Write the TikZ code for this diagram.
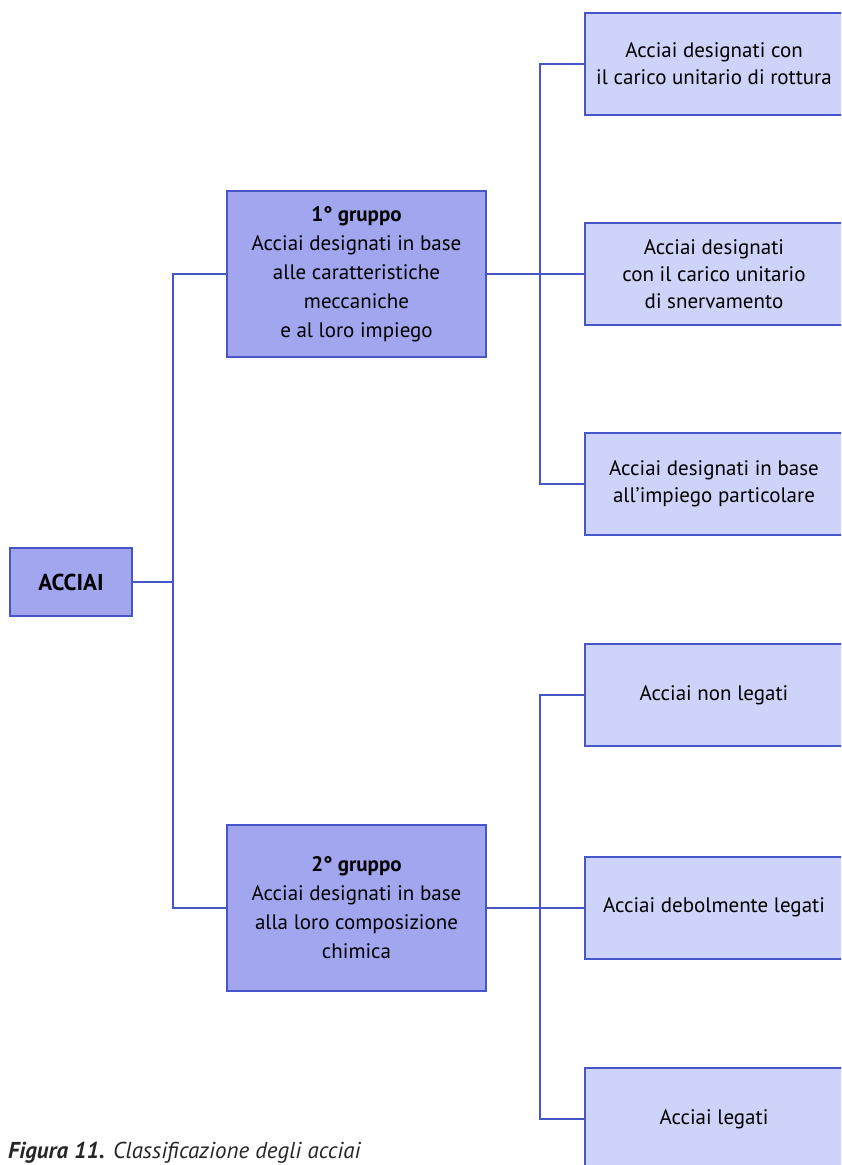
\documentclass[tikz,border=0pt]{standalone}
\usepackage{fontspec}
\setsansfont{PT Sans}
\usetikzlibrary{positioning}
\definecolor{edgeblue}{RGB}{70,86,200}
\definecolor{groupfill}{RGB}{161,166,239}
\definecolor{leaffill}{RGB}{206,212,249}
\begin{document}
\begin{tikzpicture}[x=1pt, y=-1pt,
    every node/.style={font=\sffamily\fontsize{21}{27}\selectfont},
    box/.style={draw=edgeblue, line width=2pt, align=center, inner sep=0pt},
    main/.style={box, fill=groupfill, minimum width=122pt, minimum height=68pt, font=\sffamily\bfseries\fontsize{23}{27}\selectfont},
    group/.style={box, fill=groupfill, minimum width=259pt, minimum height=166pt, font=\sffamily\fontsize{21}{29}\selectfont},
    leaf/.style={box, fill=leaffill, minimum width=258pt, minimum height=102pt},
    caption/.style={font=\sffamily\itshape\fontsize{23}{25}\selectfont, text=black!85, anchor=base west, inner sep=0pt},
    link/.style={draw=edgeblue, line width=2pt}
  ]
    \clip (0,0) rectangle (841,1165);

    \node[main] (acciai) at (71,582) {ACCIAI};
    \node[group] (g1) at (356.5,274) {\textbf{1° gruppo}\\Acciai designati in base\\alle caratteristiche\\meccaniche\\e al loro impiego};
    \node[group] (g2) at (356.5,907.5) {\textbf{2° gruppo}\\Acciai designati in base\\alla loro composizione\\chimica};

    \node[leaf] (g1a) at (714,64) {Acciai designati con\\il carico unitario di rottura};
    \node[leaf] (g1b) at (714,274) {Acciai designati\\con il carico unitario\\di snervamento};
    \node[leaf] (g1c) at (714,484) {Acciai designati in base\\all’impiego particolare};
    \node[leaf] (g2a) at (714,695) {Acciai non legati};
    \node[leaf] (g2b) at (714,907.5) {Acciai debolmente legati};
    \node[leaf] (g2c) at (714,1119) {Acciai legati};

    \node[caption] (cap) at (8,1158) {\textbf{Figura 11.} Classificazione degli acciai};

    \coordinate (trunk) at (173,582);
    \coordinate (b1) at (540,274);
    \coordinate (b2) at (540,907.5);

    \draw[link] (acciai.east) -- (trunk);
    \draw[link] (g1.west) -| (trunk) |- (g2.west);
    \draw[link] (g1.east) -- (b1);
    \draw[link] (g1a.west) -| (b1) |- (g1c.west);
    \draw[link] (b1) -- (g1b.west);
    \draw[link] (g2.east) -- (b2);
    \draw[link] (g2a.west) -| (b2) |- (g2c.west);
    \draw[link] (b2) -- (g2b.west);
  \end{tikzpicture}
\end{document}
